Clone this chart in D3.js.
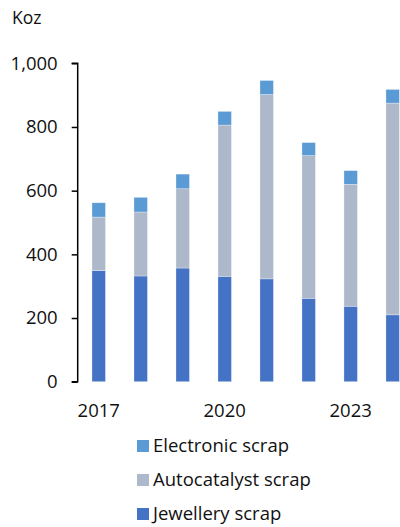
<!DOCTYPE html>
<html><head><meta charset="utf-8">
<script src="https://cdn.jsdelivr.net/npm/d3@7"></script>
<style>
html,body{margin:0;padding:0;background:#fff;}
svg text{font-family:"Open Sans",sans-serif;fill:#111;}
</style></head>
<body>
<svg id="chart" width="400" height="527"></svg>
<script>
const years = [2017, 2018, 2019, 2020, 2021, 2022, 2023, 2024];
const jewellery = [349, 332, 357, 331, 323, 262, 237, 210];
const autocatalyst = [168, 201, 249, 475, 579, 448, 383, 665];
const electronic = [45, 46, 46, 43, 44, 41, 43, 43];
const seriesNames = ["Jewellery scrap", "Autocatalyst scrap", "Electronic scrap"];
const seriesColors = ["#4472C4", "#ADB9CA", "#5B9BD5"];
const yTicks = [0, 200, 400, 600, 800, 1000];
const xTickLabels = [2017, 2020, 2023];

const svg = d3.select("#chart");
const x0 = 77.7, yTop = 63.3, yBottom = 381.7;
const fs = 18.5;

const rows = years.map((yr, i) => ({year: yr, j: jewellery[i], a: autocatalyst[i], e: electronic[i]}));
const stack = d3.stack().keys(["j", "a", "e"])(rows);

const x = d3.scaleBand().domain(years).range([x0, x0 + 336]).paddingInner(0.679).paddingOuter(0.34);
const y = d3.scaleLinear().domain([0, 1000]).range([yBottom, yTop]);

// bars
svg.append("g").selectAll("g").data(stack).join("g")
  .attr("fill", (d, i) => seriesColors[i])
  .selectAll("rect").data(d => d).join("rect")
  .attr("x", d => x(d.data.year))
  .attr("width", x.bandwidth())
  .attr("y", d => y(d[1]))
  .attr("height", d => y(d[0]) - y(d[1]))
  .attr("stroke", "rgba(255,255,255,0.5)")
  .attr("stroke-width", 0.6);

// y axis
const yAxis = d3.axisLeft(y).tickValues(yTicks).tickSize(6).tickPadding(14)
  .tickFormat(d3.format(","));
const ga = svg.append("g").attr("transform", `translate(${x0},0)`).call(yAxis);
ga.select(".domain").attr("stroke", "#000").attr("stroke-width", 1.5).attr("d", `M-6,${yTop}H0V${yBottom}H-6`);
ga.selectAll(".tick line").attr("stroke", "#000").attr("stroke-width", 1.5);
ga.selectAll(".tick text").attr("font-size", fs).attr("font-family", "Open Sans").attr("fill", "#111");

// x axis labels
const xAxis = d3.axisBottom(x).tickValues(xTickLabels).tickSize(0).tickPadding(12);
const gx = svg.append("g").attr("transform", `translate(0,${yBottom + 10})`).call(xAxis);
gx.select(".domain").remove();
gx.selectAll(".tick text").attr("font-size", fs).attr("font-family", "Open Sans").attr("fill", "#111");

// unit label
svg.append("text").attr("x", 12).attr("y", 24).attr("font-size", 17.5).text("Koz");

// legend
const legendOrder = [2, 1, 0];
const lg = svg.append("g");
legendOrder.forEach((si, k) => {
  const cy = 446 + k * 34;
  lg.append("rect").attr("x", 137).attr("y", cy - 6).attr("width", 12).attr("height", 12).attr("fill", seriesColors[si]);
  lg.append("text").attr("x", 153).attr("y", cy).attr("dy", "0.35em").attr("font-size", fs).text(seriesNames[si]);
});
</script>
</body></html>
